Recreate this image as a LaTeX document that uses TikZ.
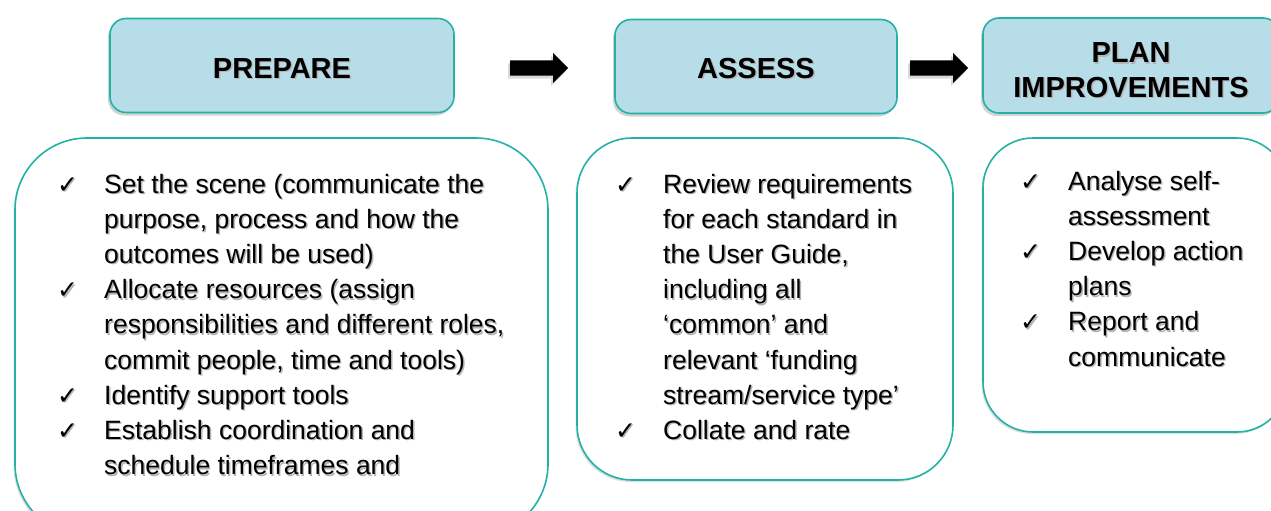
\documentclass[tikz,border=0pt]{standalone}
\usepackage{fontspec}
\setmainfont{Liberation Sans}
\newfontfamily\chkfont{DejaVu Sans}
\usetikzlibrary{shadows,shapes.arrows}
\definecolor{tealline}{RGB}{35,178,165}
\definecolor{headfill}{RGB}{183,221,232}
\definecolor{txtshadow}{RGB}{180,180,180}
\newcommand\shtx[1]{\makebox[0pt][l]{\kern1.4pt\raisebox{-1.4pt}{\color{txtshadow}#1}}#1}
\tikzset{
  headbox/.style={draw=tealline, line width=1.6pt, fill=headfill, rounded corners=16pt,
    inner sep=0pt, drop shadow={shadow xshift=-2pt, shadow yshift=-3pt, opacity=0.35, fill=gray}},
  listbox/.style={draw=tealline, line width=1.6pt, fill=white, inner sep=0pt,
    drop shadow={shadow xshift=-1.5pt, shadow yshift=-2pt, opacity=0.25, fill=gray}},
  headtext/.style={anchor=base, inner sep=0pt, font=\fontsize{29}{34}\selectfont\bfseries},
  itemtext/.style={anchor=base west, inner sep=0pt, font=\fontsize{26.5}{30}\selectfont},
  chkmark/.style={anchor=base west, inner sep=0pt, font=\chkfont\fontsize{25}{26}\selectfont},
  blockarrow/.style={single arrow, fill=black, draw=none, minimum height=58pt, minimum width=0pt,
    inner xsep=0pt, inner ysep=7.5pt, single arrow head extend=7.5pt, anchor=west,
    drop shadow={shadow xshift=-2pt, shadow yshift=-3pt, opacity=0.3, fill=gray}}
}
\begin{document}
\begin{tikzpicture}[x=1pt,y=-1pt]
\useasboundingbox (0,0) rectangle (1271,511);
% header boxes
\node[headbox, minimum width=344pt, minimum height=94pt] (hprep) at (282,65.5) {};
\node[headbox, minimum width=282pt, minimum height=94pt] (hass) at (756,66.5) {};
\node[headbox, minimum width=296pt, minimum height=95pt] (hplan) at (1131,65.5) {};
\node[headtext] (tprep) at (282,78) {\shtx{PREPARE}};
\node[headtext] (tass) at (756,78) {\shtx{ASSESS}};
\node[headtext] (tplan1) at (1131,63) {\shtx{PLAN}};
\node[headtext] (tplan2) at (1131,97) {\shtx{IMPROVEMENTS}};
% arrows
\node[blockarrow] (arr1) at (510,68) {};
\node[blockarrow] (arr2) at (910,68) {};
% list boxes
\node[listbox, rounded corners=72pt, minimum width=533pt, minimum height=398pt] (lprep) at (281.5,337) {};
\node[listbox, rounded corners=55pt, minimum width=376pt, minimum height=342pt] (lass) at (765,309) {};
\node[listbox, rounded corners=50pt, minimum width=304pt, minimum height=294pt] (lplan) at (1135,285) {};
% PREPARE items
\foreach \yy/\tx [count=\i] in {193/{Set the scene (communicate the},
  228.2/{purpose, process and how the},
  263.4/{outcomes will be used)},
  298.6/{Allocate resources (assign},
  333.8/{responsibilities and different roles,},
  369/{commit people, time and tools)},
  404.2/{Identify support tools},
  439.4/{Establish coordination and},
  474.6/{schedule timeframes and}}
  \node[itemtext] (p\i) at (104,\yy) {\shtx{\tx}};
\foreach \yy [count=\i] in {193,298.6,404.2,439.4}
  \node[chkmark] (pc\i) at (57,\yy) {\shtx{✓}};
% ASSESS items
\foreach \yy/\tx [count=\i] in {193/{Review requirements},
  228.2/{for each standard in},
  263.4/{the User Guide,},
  298.6/{including all},
  333.8/{‘common’ and},
  369/{relevant ‘funding},
  404.2/{stream/service type’},
  439.4/{Collate and rate}}
  \node[itemtext] (a\i) at (663,\yy) {\shtx{\tx}};
\foreach \yy [count=\i] in {193,439.4}
  \node[chkmark] (ac\i) at (615,\yy) {\shtx{✓}};
% PLAN items
\foreach \yy/\tx [count=\i] in {190/{Analyse self-},
  225.2/{assessment},
  260.4/{Develop action},
  295.6/{plans},
  330.8/{Report and},
  366/{communicate}}
  \node[itemtext] (r\i) at (1068,\yy) {\shtx{\tx}};
\foreach \yy [count=\i] in {190,260.4,330.8}
  \node[chkmark] (rc\i) at (1020,\yy) {\shtx{✓}};
\end{tikzpicture}
\end{document}
